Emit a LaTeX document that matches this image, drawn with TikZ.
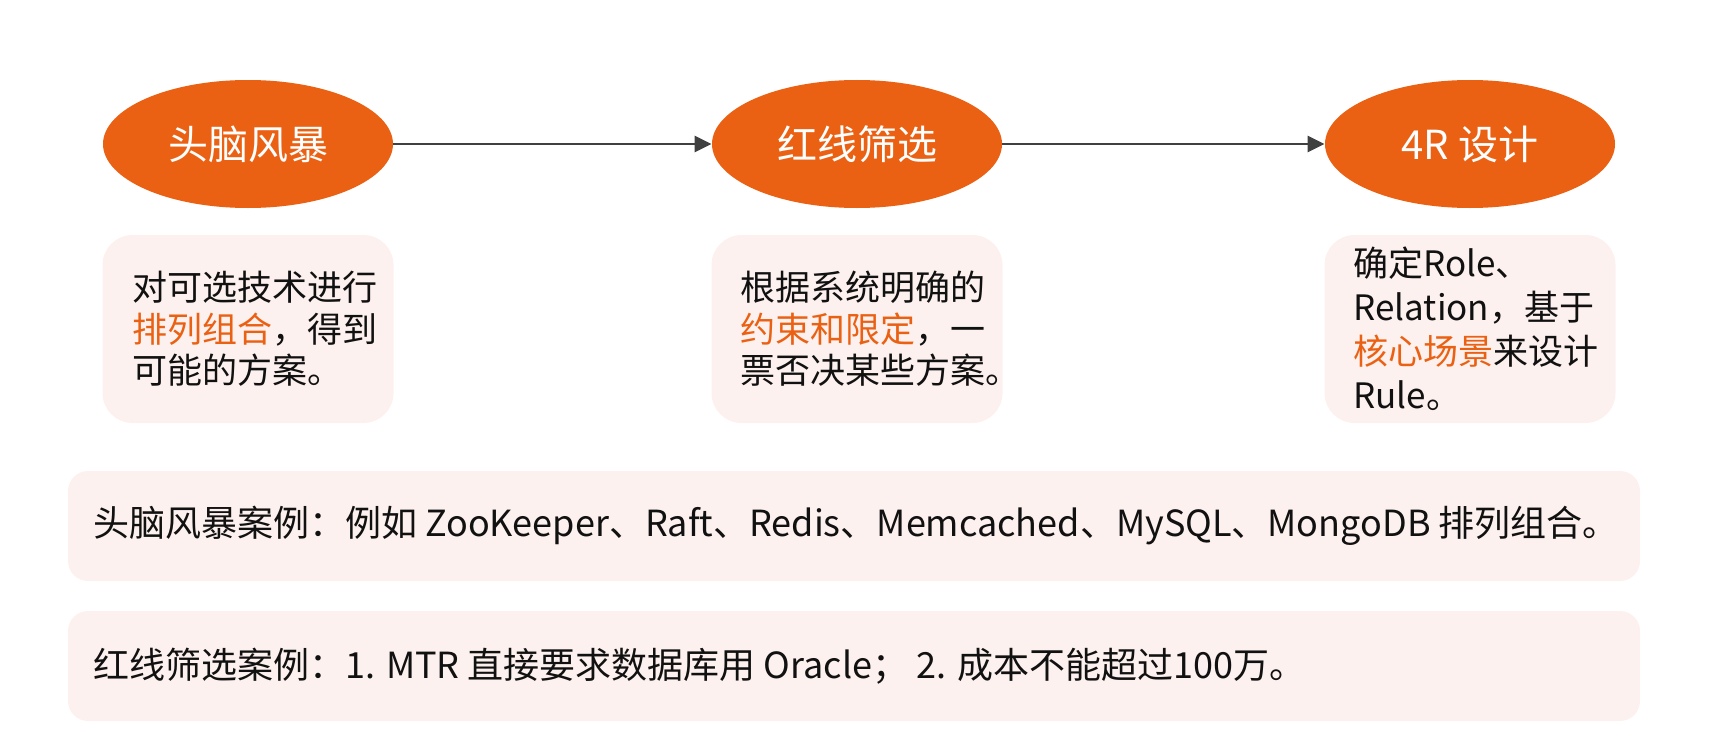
\documentclass[tikz,border=0pt]{standalone}
\usepackage{fontspec}
\setmainfont{Noto Sans CJK SC}
\usetikzlibrary{arrows.meta,shapes.geometric}
\definecolor{Brand}{HTML}{EB6113}
\definecolor{Note}{HTML}{FCF1EE}
\definecolor{Ink}{HTML}{111111}
\definecolor{Wire}{HTML}{404040}

\begin{document}
\begin{tikzpicture}[x=0.5pt,y=-0.5pt,
  stage/.style={ellipse,fill=Brand,text=white,minimum width=145pt,minimum height=64pt,inner sep=0pt,font=\fontsize{20}{24}\selectfont},
  notebox/.style={fill=Note,rounded corners=15pt,minimum width=145.5pt,minimum height=94pt,inner sep=0pt},
  notetext/.style={anchor=west,align=left,text=Ink,inner sep=0pt,font=\fontsize{17.5}{20.75}\selectfont},
  casebox/.style={fill=Note,rounded corners=10pt,minimum width=786pt,minimum height=55pt,inner sep=0pt},
  casetext/.style={anchor=west,text=Ink,inner sep=0pt,font=\fontsize{18}{21}\selectfont},
  flow/.style={draw=Wire,line width=1.4pt,-{Triangle[length=8.5pt,width=8pt]}}]
  \useasboundingbox (0,0) rectangle (1711,749);
  % three stages
  \node[stage] (brain) at (248,144) {头脑风暴};
  \node[stage] (redline) at (857,144) {红线筛选};
  \node[stage] (design) at (1470,144) {4R 设计};
  \draw[flow] (brain) -- (redline);
  \draw[flow] (redline) -- (design);
  % notes under the stages
  \node[notebox] (brainbox) at (248,329) {};
  \node[notebox] (redlinebox) at (857,329) {};
  \node[notebox] (designbox) at (1470,329) {};
  \node[notetext] (braintext) at (132,329)
    {对可选技术进行\\\textcolor{Brand}{排列组合}，得到\\可能的方案。};
  \node[notetext] (redlinetext) at (740,329)
    {根据系统明确的\\\textcolor{Brand}{约束和限定}，一\\票否决某些方案。};
  \node[notetext,font=\fontsize{17.5}{22}\selectfont] (designtext) at (1353,329)
    {确定Role、\\Relation，基于\\\textcolor{Brand}{核心场景}来设计\\Rule。};
  % case rows
  \node[casebox] (braincase) at (854,526) {};
  \node[casebox] (redlinecase) at (854,666) {};
  \node[casetext] (braincasetext) at (93,526)
    {头脑风暴案例：例如 ZooKeeper、Raft、Redis、Memcached、MySQL、MongoDB 排列组合。};
  \node[casetext] (redlinecasetext) at (93,666)
    {红线筛选案例：1. MTR 直接要求数据库用 Oracle； 2. 成本不能超过100万。};
\end{tikzpicture}
\end{document}
